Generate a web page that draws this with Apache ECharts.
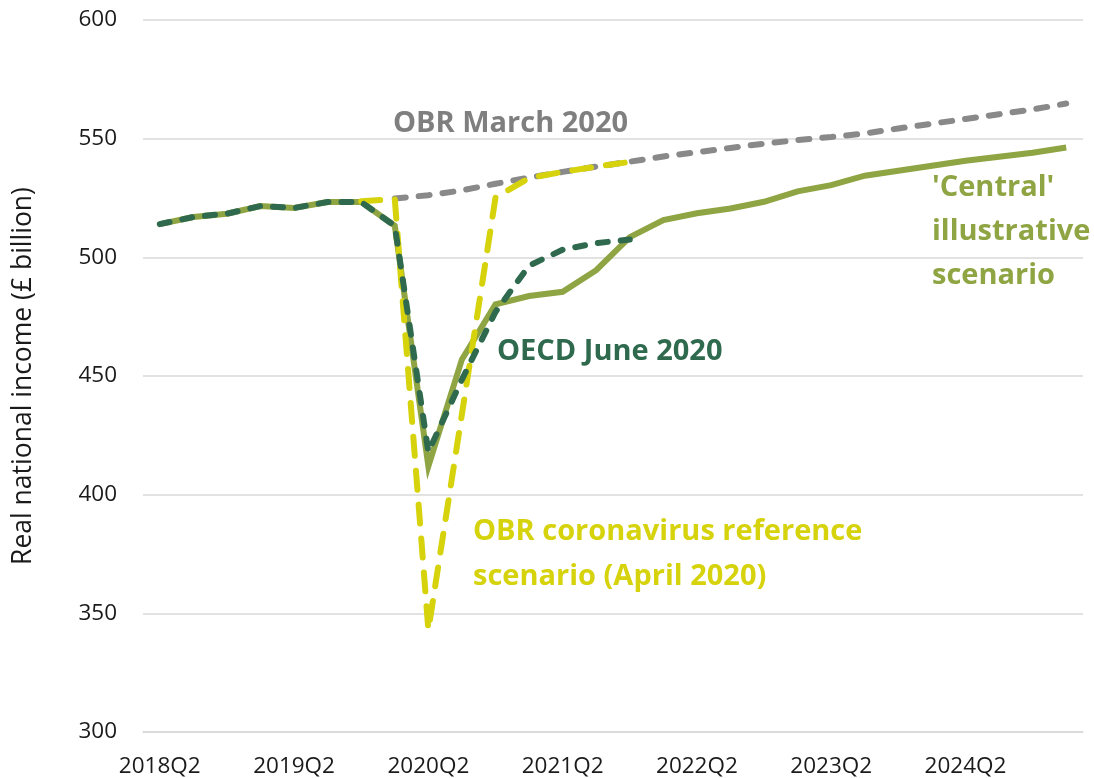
<!doctype html>
<html lang="en">
<head>
  <meta charset="utf-8" />
  <title>Real national income scenarios</title>
  <script src="https://cdn.jsdelivr.net/npm/echarts@6/dist/echarts.min.js"></script>
  <style>
    html, body { margin:0; padding:0; background:#fff; }
    #chart { width:1094px; height:778px; }
  </style>
</head>
<body>
  <div id="chart"></div>
  <script>
    // quarters, 2018Q2 .. 2025Q1
    const quarters = [
      '2018Q2','2018Q3','2018Q4','2019Q1','2019Q2','2019Q3','2019Q4','2020Q1',
      '2020Q2','2020Q3','2020Q4','2021Q1','2021Q2','2021Q3','2021Q4','2022Q1',
      '2022Q2','2022Q3','2022Q4','2023Q1','2023Q2','2023Q3','2023Q4','2024Q1',
      '2024Q2','2024Q3','2024Q4','2025Q1'
    ];

    // £ billion
    const centralScenario = [
      514, 517, 518.4, 521.6, 520.8, 523.3, 523.3, 513.3,
      412, 457, 480.2, 483.7, 485.5, 494.6, 508.5, 515.7,
      518.6, 520.6, 523.4, 527.8, 530.4, 534.4, 536.5, 538.6,
      540.7, 542.4, 544.1, 546.3
    ];
    const obrMarch = [
      null, null, null, null, null, null, null, 524.8,
      526.2, 528.2, 531, 533.6, 536, 538.2, 540.3, 542.5,
      544.3, 546.1, 547.9, 549.4, 550.7, 552.2, 554.3, 556.3,
      558.3, 560.3, 562.3, 564.8
    ];
    const obrCorona = [
      null, null, null, null, null, null, 523.6, 524.5,
      343, 434, 525.2, 533.4, 536, 538.2, 540.2
    ];
    const oecdJune = [
      514, 517, 518.4, 521.6, 520.8, 523.3, 523.3, 513.3,
      418, 448.5, 477, 496.5, 503.2, 506, 507.5
    ];

    const yTicks = { min: 300, max: 600, step: 50 };

    const colors = {
      central: '#8FA443',
      obrMarch: '#898989',
      obrCorona: '#D6D30C',
      oecd: '#2F6A4E'
    };

    const FONT = '"Open Sans", "Noto Sans", sans-serif';

    function label(text, x, y, color) {
      return {
        type: 'text', x: x, y: y, z: 100,
        style: {
          text: text, fill: color, font: 'bold 29px ' + FONT,
          align: 'left', verticalAlign: 'middle',
          textAlign: 'left', textVerticalAlign: 'middle'
        }
      };
    }

    const chart = echarts.init(document.getElementById('chart'), null, { renderer: 'canvas' });
    chart.setOption({
      animation: false,
      backgroundColor: '#ffffff',
      textStyle: { fontFamily: FONT },
      grid: { left: 143, right: 11, top: 20, bottom: 46, containLabel: false },
      xAxis: {
        type: 'category',
        data: quarters,
        boundaryGap: true,
        axisLine: { show: true, lineStyle: { color: '#D9D9D9', width: 1.5 } },
        axisTick: { show: false },
        axisLabel: { interval: 3, fontSize: 22.5, color: '#1a1a1a', margin: 23, fontFamily: FONT },
        splitLine: { show: false }
      },
      yAxis: {
        type: 'value',
        min: yTicks.min, max: yTicks.max, interval: yTicks.step,
        name: 'Real national income (£ billion)',
        nameLocation: 'middle',
        nameRotate: 90,
        nameGap: 106,
        nameTextStyle: { fontSize: 26.5, color: '#1a1a1a', fontFamily: FONT },
        axisLine: { show: false },
        axisTick: { show: false },
        axisLabel: { fontSize: 22.5, color: '#1a1a1a', margin: 26, fontFamily: FONT },
        splitLine: { lineStyle: { color: '#D9D9D9', width: 1.5 } }
      },
      series: [
        {
          name: 'OBR March 2020', type: 'line', data: obrMarch,
          symbol: 'none', connectNulls: false,
          lineStyle: { color: colors.obrMarch, width: 6, type: [11, 13], cap: 'round' }
        },
        {
          name: "'Central' illustrative scenario", type: 'line', data: centralScenario,
          symbol: 'none',
          lineStyle: { color: colors.central, width: 6, join: 'miter', miterLimit: 20 }
        },
        {
          name: 'OBR coronavirus reference scenario (April 2020)', type: 'line', data: obrCorona,
          symbol: 'none',
          lineStyle: { color: colors.obrCorona, width: 6, type: [19, 15], cap: 'round' }
        },
        {
          name: 'OECD June 2020', type: 'line', data: oecdJune,
          symbol: 'none',
          lineStyle: { color: colors.oecd, width: 6, type: [10, 13], cap: 'round' }
        }
      ],
      graphic: [
        label('OBR March 2020', 393, 124, '#7F7F7F'),
        label('OECD June 2020', 497, 352, colors.oecd),
        label('OBR coronavirus reference', 473, 532, colors.obrCorona),
        label('scenario (April 2020)', 473, 577, colors.obrCorona),
        label("'Central'", 932, 188, colors.central),
        label('illustrative', 932, 232, colors.central),
        label('scenario', 932, 276, colors.central)
      ]
    });
  </script>
</body>
</html>
